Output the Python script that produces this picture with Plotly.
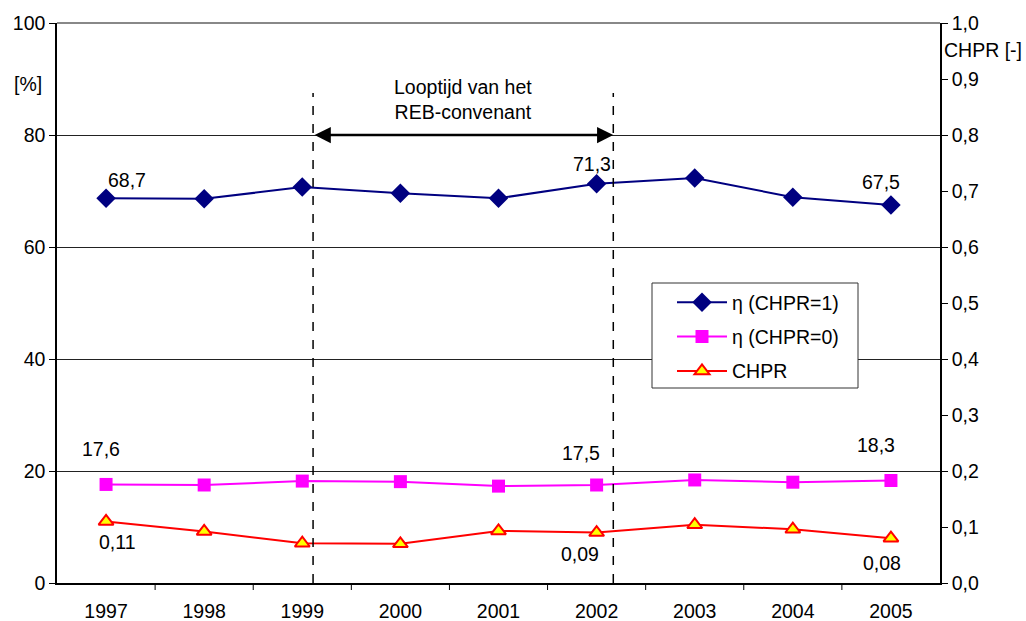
import plotly.graph_objects as go

years = ["1997", "1998", "1999", "2000", "2001", "2002", "2003", "2004", "2005"]
eta_chpr1 = [68.7, 68.6, 70.7, 69.6, 68.7, 71.3, 72.3, 68.9, 67.5]
eta_chpr0 = [17.6, 17.5, 18.2, 18.1, 17.3, 17.5, 18.4, 18.0, 18.3]
chpr = [0.11, 0.092, 0.071, 0.070, 0.093, 0.09, 0.104, 0.096, 0.08]

# which points carry a value label
labelled = [0, 5, 8]

FONT = "Liberation Sans, Arial, sans-serif"
FS = 19.5

# plot area in pixels
L, R, T, B = 57, 940, 23, 583
W, H = R - L, B - T


def nl(v, d):
    return f"{v:.{d}f}".replace(".", ",")


def px(xp):
    return (xp - L) / W


def py(yp):
    return (B - yp) / H


fig = go.Figure()

fig.add_trace(go.Scatter(
    x=list(range(len(years))), y=eta_chpr1, name="η (CHPR=1)", mode="lines+markers",
    line=dict(color="#000080", width=2),
    marker=dict(symbol="diamond", size=15, color="#000080"),
    legendgroup="a",
))
fig.add_trace(go.Scatter(
    x=list(range(len(years))), y=eta_chpr0, name="η (CHPR=0)", mode="lines+markers",
    line=dict(color="#FF00FF", width=2),
    marker=dict(symbol="square", size=13, color="#FF00FF"),
    legendgroup="b",
))
fig.add_trace(go.Scatter(
    x=list(range(len(years))), y=chpr, name="CHPR", mode="lines+markers", yaxis="y2",
    line=dict(color="#FF0000", width=2),
    marker=dict(symbol="triangle-up", size=13, color="#FFFF00",
                line=dict(color="#FF0000", width=2)),
    legendgroup="c",
))

ann = []
shifts1 = {0: (21, 18), 5: (-5, 20), 8: (-10, 23)}
for i in labelled:
    dx, dy = shifts1[i]
    ann.append(dict(x=i, y=eta_chpr1[i], xref="x", yref="y", text=nl(eta_chpr1[i], 1),
                    showarrow=False, xshift=dx, yshift=dy))
shifts0 = {0: (-5, 35), 5: (-16, 32), 8: (-15, 36)}
for i in labelled:
    dx, dy = shifts0[i]
    ann.append(dict(x=i, y=eta_chpr0[i], xref="x", yref="y", text=nl(eta_chpr0[i], 1),
                    showarrow=False, xshift=dx, yshift=dy))
shiftsc = {0: (11, -21), 5: (-17, -21), 8: (-9, -25)}
for i in labelled:
    dx, dy = shiftsc[i]
    ann.append(dict(x=i, y=chpr[i], xref="x", yref="y2", text=nl(chpr[i], 2),
                    showarrow=False, xshift=dx, yshift=dy))

# period of the covenant
x_start, x_end = 2.11, 5.17
ann.append(dict(x=x_end, y=80, ax=x_start, ay=80, xref="x", yref="y", axref="x", ayref="y",
                text="", showarrow=True, arrowhead=2, startarrowhead=2, arrowside="end+start",
                arrowsize=1.3, startarrowsize=1.3, arrowwidth=2.5, arrowcolor="black"))
ann.append(dict(x=(x_start + x_end) / 2, y=86.3, xref="x", yref="y",
                text="Looptijd van het<br>REB-convenant", showarrow=False, align="center"))
ann.append(dict(x=0, y=py(84), xref="paper", yref="paper", xanchor="center",
                yanchor="middle", xshift=-29, text="[%]", showarrow=False))
ann.append(dict(x=1.0, y=py(50), xref="paper", yref="paper", xanchor="left",
                yanchor="middle", xshift=2, text="CHPR [-]", showarrow=False))

shapes = []
for xv in (x_start, x_end):
    shapes.append(dict(type="line", xref="x", yref="y", x0=xv, x1=xv, y0=0, y1=87.5,
                       line=dict(color="black", width=1.5, dash="dash")))
shapes.append(dict(type="line", xref="paper", yref="paper", x0=0, x1=1, y0=1, y1=1,
                   line=dict(color="#888888", width=2)))
# legend frame
shapes.append(dict(type="rect", xref="paper", yref="paper",
                   x0=px(652), x1=px(858), y0=py(388), y1=py(283),
                   line=dict(color="#333333", width=1), fillcolor="white", layer="above"))

fig.update_layout(
    width=1026, height=621,
    margin=dict(l=L, r=1026 - R, t=T, b=621 - B),
    paper_bgcolor="white", plot_bgcolor="white",
    font=dict(family=FONT, size=FS, color="black"),
    separators=",.",
    showlegend=True,
    legend=dict(x=px(672), y=py(283), xanchor="left", yanchor="top",
                borderwidth=0, bgcolor="rgba(0,0,0,0)",
                font=dict(family=FONT, size=FS), itemwidth=50,
                traceorder="grouped", tracegroupgap=6),
    xaxis=dict(range=[-0.5, 8.5], tickmode="array", tickvals=list(range(len(years))),
               ticktext=years, showgrid=False, zeroline=False, automargin=False,
               showline=True, linecolor="black", linewidth=1.5,
               ticks="", ticklabelstandoff=10),
    yaxis=dict(range=[0, 100], dtick=20, showgrid=True, gridcolor="#222222", gridwidth=1,
               zeroline=False, showline=True, linecolor="black", linewidth=1.5,
               automargin=False, ticks="outside", ticklen=6, tickcolor="black"),
    yaxis2=dict(range=[0, 1], dtick=0.1, tickformat=".1f", overlaying="y", side="right",
                showgrid=False, zeroline=False, showline=True, linecolor="black",
                automargin=False, linewidth=1.5, ticks="outside", ticklen=6,
                tickcolor="black"),
    annotations=ann,
    shapes=shapes,
)

# category boundary ticks on the x axis
for b in range(1, len(years)):
    fig.add_shape(type="line", xref="x", yref="paper", x0=b - 0.5, x1=b - 0.5,
                  y0=0, y1=-7 / H, line=dict(color="black", width=1))

fig.write_html("out.html")
